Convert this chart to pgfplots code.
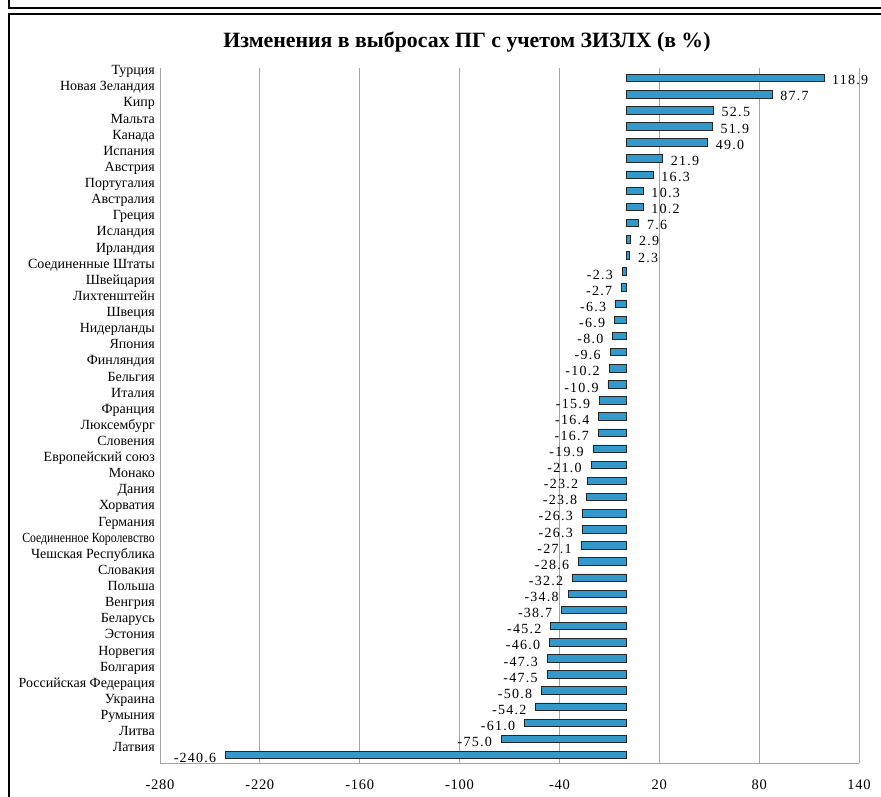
\documentclass[border=0pt]{standalone}
\usepackage{fontspec}
\setmainfont{Liberation Serif}
\newfontfamily\numfont[LetterSpace=9]{Liberation Serif}
\newfontfamily\tickfont[LetterSpace=5]{Liberation Serif}
\usepackage{graphicx}
\usepackage{pgfplots}
\pgfplotsset{compat=1.18}
\definecolor{barblue}{RGB}{51,153,204}
\definecolor{gridgray}{RGB}{165,165,165}
\begin{document}
\begin{tikzpicture}[x=1pt,y=1pt]
\path[use as bounding box] (0,0) rectangle (881,797);
% frames
\draw[line width=1.6pt] (9,805) -- (9,789) -- (895,789);
\draw[line width=1.6pt] (9,-10) -- (9,783) -- (895,783);
\node[font=\fontsize{21.8}{22}\selectfont\bfseries] at (467,755) {Изменения в выбросах ПГ с учетом ЗИЗЛХ (в \%)};
\begin{axis}[
  at={(160pt,34pt)}, anchor=south west,
  scale only axis, width=699pt, height=695pt,
  xbar, bar width=7.5pt, bar shift=0pt,
  xmin=-280, xmax=140, ymin=-0.496, ymax=42.62,
  xtick={-280,-220,-160,-100,-40,20,80,140},
  ytick={0,...,42},
  yticklabels={Латвия, Литва, Румыния, Украина, Российская Федерация, Болгария, Норвегия, Эстония, Беларусь, Венгрия, Польша, Словакия, Чешская Республика, {\scalebox{0.84}[1]{Соединенное Королевство}}, Германия, Хорватия, Дания, Монако, Европейский союз, Словения, Люксембург, Франция, Италия, Бельгия, Финляндия, Япония, Нидерланды, Швеция, Лихтенштейн, Швейцария, Соединенные Штаты, Ирландия, Исландия, Греция, Австралия, Португалия, Австрия, Испания, Канада, Мальта, Кипр, Новая Зеландия, Турция},
  axis x line*=bottom, axis y line*=left,
  axis line style={gridgray, line width=0.9pt, -},
  major tick length=0pt,
  xmajorgrids, grid style={gridgray, line width=0.9pt},
  /pgf/number format/assume math mode=true,
  xticklabel style={font=\tickfont\fontsize{14.5}{15}\selectfont, yshift=-13pt},
  yticklabel style={font=\fontsize{14}{14}\selectfont, anchor=east, text height=9.5pt, text depth=3pt, inner sep=0pt, yshift=6.5pt, xshift=-5pt},
]
\addplot[fill=barblue, draw=black!85, line width=0.7pt,
  nodes near coords={\pgfmathprintnumber[fixed,fixed zerofill,precision=1,assume math mode=true]{\pgfplotspointmeta}},
  every node near coord/.style={anchor=west, inner sep=0pt, text height=9.5pt, text depth=0pt, xshift=8pt, yshift=-2pt, font=\numfont\fontsize{14}{14}\selectfont, black}]
 coordinates {
(118.9,42) (87.7,41) (52.5,40) (51.9,39) (49.0,38) (21.9,37) (16.3,36) (10.3,35) (10.2,34) (7.6,33) (2.9,32) (2.3,31)
};
\addplot[fill=barblue, draw=black!85, line width=0.7pt,
  nodes near coords={\pgfmathprintnumber[fixed,fixed zerofill,precision=1,assume math mode=true]{\pgfplotspointmeta}},
  every node near coord/.style={anchor=east, inner sep=0pt, text height=9.5pt, text depth=0pt, xshift=-9pt, yshift=-3pt, font=\numfont\fontsize{14}{14}\selectfont, black}]
 coordinates {
(-2.3,30) (-2.7,29) (-6.3,28) (-6.9,27) (-8.0,26) (-9.6,25) (-10.2,24) (-10.9,23) (-15.9,22) (-16.4,21) (-16.7,20) (-19.9,19) (-21.0,18) (-23.2,17) (-23.8,16) (-26.3,15) (-26.3,14) (-27.1,13) (-28.6,12) (-32.2,11) (-34.8,10) (-38.7,9) (-45.2,8) (-46.0,7) (-47.3,6) (-47.5,5) (-50.8,4) (-54.2,3) (-61.0,2) (-75.0,1) (-240.6,0)
};
\end{axis}
\end{tikzpicture}
\end{document}
